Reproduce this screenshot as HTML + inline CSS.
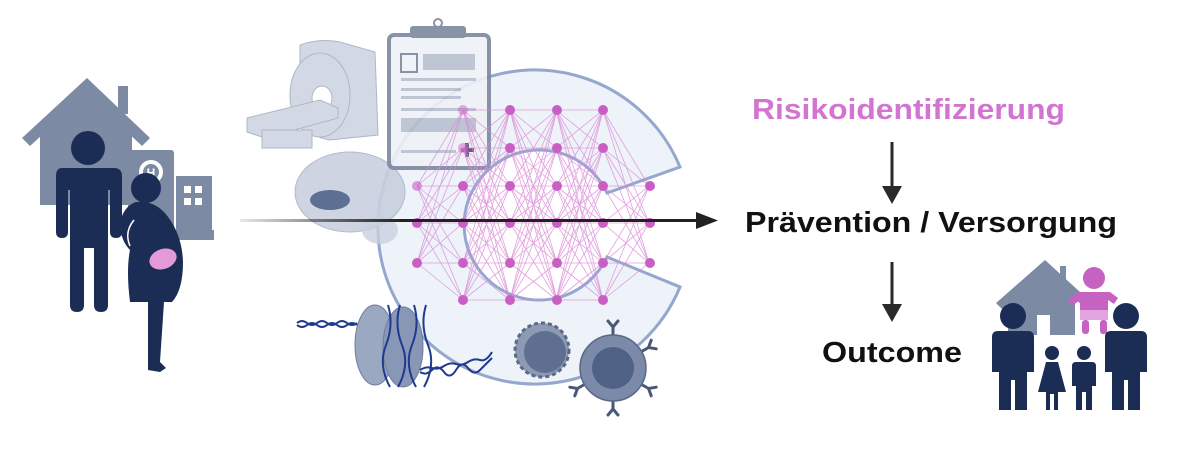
<!DOCTYPE html>
<html><head><meta charset="utf-8"><style>
html,body{margin:0;padding:0;background:#fff;width:1200px;height:455px;overflow:hidden}
svg{display:block}
</style></head><body>
<svg width="1200" height="455" viewBox="0 0 1200 455" xmlns="http://www.w3.org/2000/svg" font-family="Liberation Sans, Arial, sans-serif">
<defs>
<path id="mesh" d="M463 110L510 110M463 110L510 148M463 110L510 186M463 110L510 223M463 110L510 263M463 110L510 300M463 148L510 110M463 148L510 148M463 148L510 186M463 148L510 223M463 148L510 263M463 148L510 300M463 186L510 110M463 186L510 148M463 186L510 186M463 186L510 223M463 186L510 263M463 186L510 300M463 223L510 110M463 223L510 148M463 223L510 186M463 223L510 223M463 223L510 263M463 223L510 300M463 263L510 110M463 263L510 148M463 263L510 186M463 263L510 223M463 263L510 263M463 263L510 300M463 300L510 110M463 300L510 148M463 300L510 186M463 300L510 223M463 300L510 263M463 300L510 300" stroke="#d98ad6" stroke-width="0.8" fill="none" opacity="0.8"/>
<path id="mesh3" d="M417 186L463 110M417 186L463 148M417 186L463 186M417 186L463 223M417 186L463 263M417 186L463 300M417 223L463 110M417 223L463 148M417 223L463 186M417 223L463 223M417 223L463 263M417 223L463 300M417 263L463 110M417 263L463 148M417 263L463 186M417 263L463 223M417 263L463 263M417 263L463 300" stroke="#d98ad6" stroke-width="0.8" fill="none" opacity="0.8"/>
<g id="ab" fill="none" stroke="#4a5878" stroke-width="3" stroke-linecap="round"><path d="M0 0V-8M0 -8L-5 -14M0 -8L5 -14"/></g>
<linearGradient id="lg" x1="0" x2="1"><stop offset="0" stop-color="#222" stop-opacity="0.1"/><stop offset="0.35" stop-color="#222"/></linearGradient>
</defs>

<!-- LEFT: house -->
<g fill="#7d8aa4">
<path d="M87 78L22 138L30 146L87 94L142 146L150 138Z"/>
<rect x="118" y="86" width="10" height="28"/>
<path d="M40 132L87 90L132 132V205H40Z"/>
<rect x="128" y="150" width="46" height="90" rx="3"/>
<rect x="176" y="176" width="36" height="64"/>
<rect x="128" y="230" width="86" height="10"/>
</g>
<circle cx="151" cy="172" r="12" fill="#fff"/>
<circle cx="151" cy="172" r="8" fill="#7d8aa4"/>
<text x="151" y="177" font-size="12" font-weight="bold" fill="#fff" text-anchor="middle">H</text>
<g fill="#fff"><rect x="184" y="186" width="7" height="7"/><rect x="195" y="186" width="7" height="7"/><rect x="184" y="198" width="7" height="7"/><rect x="195" y="198" width="7" height="7"/></g>
<!-- man -->
<g fill="#1c2d55">
<circle cx="88" cy="148" r="17"/>
<path d="M62 168H114Q122 168 122 176V232Q122 238 116 238Q110 238 110 232V190H108V305Q108 312 101 312Q94 312 94 305V248H84V305Q84 312 77 312Q70 312 70 305V190H68V232Q68 238 62 238Q56 238 56 232V176Q56 168 62 168Z"/>
</g>
<!-- woman -->
<g fill="#1c2d55">
<circle cx="146" cy="188" r="15"/>
<path d="M136 202Q152 200 164 212Q182 232 183 262Q183 290 172 302L164 302L160 362L166 368L160 372L148 370L148 302L130 302Q126 270 130 250Q120 240 120 222Q124 206 136 202Z"/>
</g>
<path d="M134 220Q124 232 130 246" stroke="#fff" stroke-width="1.5" fill="none"/>
<ellipse cx="163" cy="259" rx="14" ry="10" fill="#e39ad8" transform="rotate(-20 163 259)"/>

<!-- C shape -->
<path d="M680 167A157 157 0 1 0 680 287L607 257A75 75 0 1 1 607 193Z" fill="#eef2f9" stroke="#8fa3cc" stroke-width="3" opacity="0.95"/>

<!-- MRI -->
<g fill="#d3d9e4" stroke="#aeb7c8" stroke-width="1">
<path d="M300 45Q320 38 340 42L375 52L378 135L330 140Q300 135 300 110Z"/>
<ellipse cx="320" cy="95" rx="30" ry="42"/>
<ellipse cx="322" cy="98" rx="10" ry="12" fill="#fff"/>
<path d="M247 118L320 100L338 108L338 118L265 138L247 132Z"/>
<rect x="262" y="130" width="50" height="18"/>
</g>
<!-- brain -->
<ellipse cx="350" cy="192" rx="55" ry="40" fill="#c9d0de" stroke="#aab3c6" opacity="0.9"/>
<ellipse cx="330" cy="200" rx="20" ry="10" fill="#5d6f92"/>
<ellipse cx="380" cy="230" rx="18" ry="14" fill="#c9d0de" opacity="0.8"/>
<!-- clipboard -->
<g opacity="0.9">
<rect x="389" y="35" width="100" height="133" rx="5" fill="#eef1f6" stroke="#7d889f" stroke-width="4"/>
<rect x="410" y="26" width="56" height="12" rx="3" fill="#7d889f"/>
<circle cx="438" cy="23" r="4" fill="none" stroke="#7d889f" stroke-width="2"/>
<rect x="401" y="54" width="16" height="18" fill="none" stroke="#7d889f" stroke-width="2"/>
<g fill="#b8c0cf"><rect x="423" y="54" width="52" height="16"/><rect x="401" y="78" width="75" height="3"/><rect x="401" y="88" width="60" height="3"/><rect x="401" y="96" width="60" height="3"/><rect x="401" y="108" width="75" height="3"/><rect x="401" y="118" width="75" height="14"/><rect x="401" y="150" width="55" height="3"/></g>
<path d="M461 148h4v-5h4v5h5v4h-5v5h-4v-5h-4z" fill="#5a4a7a"/>
</g>

<!-- mesh -->
<use href="#mesh3"/><use href="#mesh"/><use href="#mesh" transform="translate(47 0)"/><use href="#mesh" transform="translate(93 0)"/>
<use href="#mesh3" transform="translate(1066 0) scale(-1 1)"/>
<g fill="#c95fc4">
<circle cx="417" cy="186" r="5" opacity="0.6"/><circle cx="417" cy="223" r="5"/><circle cx="417" cy="263" r="5"/>
<circle cx="463" cy="110" r="5" opacity="0.5"/><circle cx="463" cy="148" r="5" opacity="0.5"/><circle cx="463" cy="186" r="5"/><circle cx="463" cy="223" r="5"/><circle cx="463" cy="263" r="5"/><circle cx="463" cy="300" r="5"/>
<circle cx="510" cy="110" r="5"/><circle cx="510" cy="148" r="5"/><circle cx="510" cy="186" r="5"/><circle cx="510" cy="223" r="5"/><circle cx="510" cy="263" r="5"/><circle cx="510" cy="300" r="5"/>
<circle cx="557" cy="110" r="5"/><circle cx="557" cy="148" r="5"/><circle cx="557" cy="186" r="5"/><circle cx="557" cy="223" r="5"/><circle cx="557" cy="263" r="5"/><circle cx="557" cy="300" r="5"/>
<circle cx="603" cy="110" r="5"/><circle cx="603" cy="148" r="5"/><circle cx="603" cy="186" r="5"/><circle cx="603" cy="223" r="5"/><circle cx="603" cy="263" r="5"/><circle cx="603" cy="300" r="5"/>
<circle cx="650" cy="186" r="5"/><circle cx="650" cy="223" r="5"/><circle cx="650" cy="263" r="5"/>
</g>

<!-- main arrow -->
<rect x="240" y="219" width="460" height="3" fill="url(#lg)"/>
<path d="M696 212L718 220.5L696 229Z" fill="#222"/>

<!-- nucleosome -->
<ellipse cx="375" cy="345" rx="20" ry="40" fill="#9aa8c2" stroke="#6e7d9c"/>
<ellipse cx="403" cy="347" rx="20" ry="40" fill="#8797b5" stroke="#6e7d9c"/>
<g fill="none" stroke="#1f3a8f" stroke-width="2">
<path d="M297 323q5 -4 10 0t10 0t10 0t10 0t10 0t10 0"/>
<path d="M297 325q5 4 10 0t10 0t10 0t10 0t10 0t10 0"/>
<path d="M420 370q6 -4 12 -2t12 -2t12 -2t12 -2t12 -2t12 -8"/>
<path d="M420 372q6 4 12 -2t12 2t12 -2t12 -2t12 2t12 -12"/>
<path d="M388 305q6 20 -2 40t4 42M400 305q-6 20 2 40t-4 42M414 305q6 20 -2 40t4 42M426 305q-6 20 2 40t-4 42"/>
</g>
<!-- cells -->
<circle cx="542" cy="350" r="27" fill="#8d9ab3" stroke="#5a6888" stroke-width="3" stroke-dasharray="4 3"/>
<circle cx="545" cy="352" r="21" fill="#5e6f90"/>
<g transform="translate(613 368)">
<use href="#ab" transform="translate(0 -33)"/><use href="#ab" transform="rotate(60) translate(0 -33)"/><use href="#ab" transform="rotate(120) translate(0 -33)"/><use href="#ab" transform="rotate(180) translate(0 -33)"/><use href="#ab" transform="rotate(240) translate(0 -33)"/>
<circle r="33" fill="#7b8aa8" stroke="#5a6888" stroke-width="1.5"/>
<circle r="21" fill="#4f6185"/>
</g>

<!-- right text -->
<text x="752" y="119" font-size="29" font-weight="bold" fill="#d274d0" textLength="313" lengthAdjust="spacingAndGlyphs">Risikoidentifizierung</text>
<text x="745" y="232" font-size="29" font-weight="bold" fill="#111" textLength="372" lengthAdjust="spacingAndGlyphs">Prävention / Versorgung</text>
<text x="822" y="362" font-size="29" font-weight="bold" fill="#111" textLength="140" lengthAdjust="spacingAndGlyphs">Outcome</text>
<g fill="#2a2a2a">
<rect x="890.5" y="142" width="3" height="46"/><path d="M882 186L902 186L892 204Z"/>
<rect x="890.5" y="262" width="3" height="44"/><path d="M882 304L902 304L892 322Z"/>
</g>

<!-- family -->
<g fill="#7d8aa4">
<path d="M1045 260L996 303L1002 309L1045 270L1086 309L1092 303Z"/>
<rect x="1060" y="266" width="6" height="20"/>
<path d="M1008 298L1045 267L1075 295V335H1008Z"/>
</g>
<rect x="1037" y="315" width="13" height="20" fill="#fff"/>
<g fill="#c562c2">
<circle cx="1094" cy="278" r="11"/>
<path d="M1078 292H1110L1118 298L1114 304L1108 300V318H1080V300L1072 306L1068 300Z"/>
<rect x="1082" y="320" width="7" height="14" rx="3"/><rect x="1100" y="320" width="7" height="14" rx="3"/>
</g>
<rect x="1080" y="310" width="28" height="10" fill="#e2a4df"/>
<g fill="#1c2d55">
<circle cx="1013" cy="316" r="13"/>
<path d="M998 331H1028Q1034 331 1034 337V372H1027V410H1015V380H1011V410H999V372H992V337Q992 331 998 331Z"/>
<circle cx="1126" cy="316" r="13"/>
<path d="M1111 331H1141Q1147 331 1147 337V372H1140V410H1128V380H1124V410H1112V372H1105V337Q1105 331 1111 331Z"/>
<circle cx="1052" cy="353" r="7"/>
<path d="M1046 362H1058L1066 392H1058V410H1054V394H1050V410H1046V392H1038Z"/>
<circle cx="1084" cy="353" r="7"/>
<path d="M1076 362H1092Q1096 362 1096 366V386H1092V410H1086V392H1082V410H1076V386H1072V366Q1072 362 1076 362Z"/>
</g>
</svg>
</body></html>
